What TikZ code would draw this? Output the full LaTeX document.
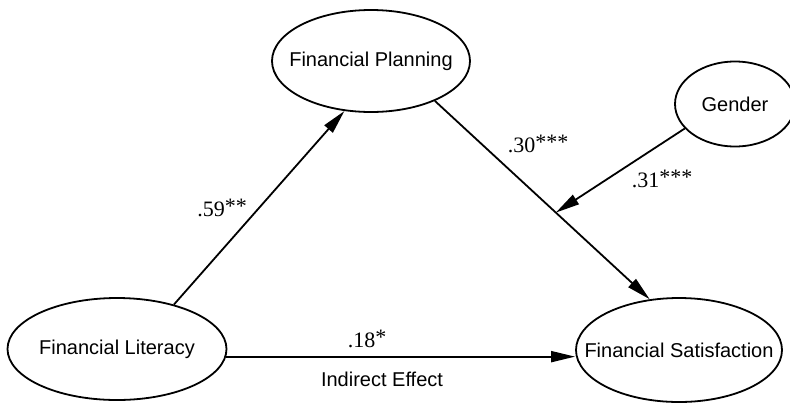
\documentclass[tikz,border=0pt]{standalone}
\usepackage{fontspec}
\setmainfont{Liberation Serif}
\setsansfont{Liberation Sans}
\usetikzlibrary{arrows.meta}
\usetikzlibrary{shapes.geometric}
\newcommand{\sig}[1]{\raisebox{1.5pt}{#1}}

\begin{document}
\begin{tikzpicture}[
		x=0.5pt, y=-0.5pt,
		latent/.style={ellipse, draw, line width=0.9pt, inner xsep=-12pt, inner ysep=0pt, font=\sffamily\fontsize{10}{12}\selectfont},
		path/.style={line width=0.9pt, -{Triangle[length=12pt, width=5.5pt]}},
		coef/.style={inner sep=0pt, font=\fontsize{11}{13}\selectfont},
	]
		\useasboundingbox (0,0) rectangle (790,402);
		\begin{scope}
			\clip (0,0) rectangle (790,402);
			\node (plan) [latent, minimum width=99pt, minimum height=51pt] at (371,61) {Financial Planning};
			\node (lit) [latent, minimum width=109.5pt, minimum height=51pt] at (117,349) {Financial Literacy};
			\node (sat) [latent, minimum width=103pt, minimum height=52pt] at (679,350) {Financial Satisfaction};
			\node (gen) [latent, minimum width=60pt, minimum height=42.5pt] at (735,104) {Gender};
		\end{scope}

		\path (plan.-32) -- (sat.120) coordinate[pos=0.563] (mod);

		\draw[path] (lit.38) -- (plan.-118);
		\draw[path] (plan.-32) -- (sat.120);
		\draw[path] (gen.206) -- (mod);
		\draw[path] (lit.-4) -- (lit.-4 -| sat.west);

		\node (c59) [coef] at (222,208) {.59\sig{**}};
		\node (c30) [coef] at (538,144) {.30\sig{***}};
		\node (c31) [coef] at (662,179) {.31\sig{***}};
		\node (c18) [coef] at (367,339) {.18\sig{*}};
		\node (ind) [inner sep=0pt, font=\sffamily\fontsize{10}{12}\selectfont] at (382,379) {Indirect Effect};
	\end{tikzpicture}
\end{document}
